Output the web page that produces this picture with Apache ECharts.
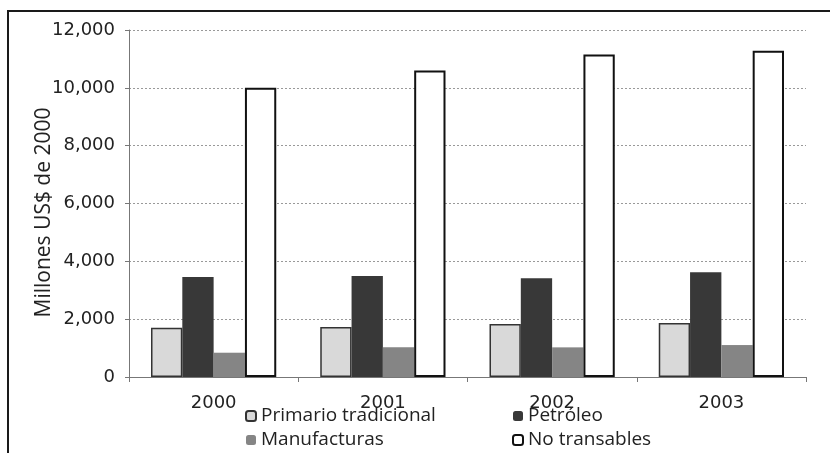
<!DOCTYPE html>
<html>
<head>
<meta charset="utf-8">
<script src="https://cdn.jsdelivr.net/npm/echarts@6/dist/echarts.min.js"></script>
<style>
  html, body { margin: 0; padding: 0; background: #fff; }
  #chart { width: 830px; height: 453px; }
</style>
</head>
<body>
<div id="chart"></div>
<script>
const years = ['2000', '2001', '2002', '2003'];
const primario = [1700, 1730, 1830, 1870];
const petroleo = [3460, 3495, 3415, 3620];
const manufacturas = [840, 1025, 1025, 1105];
const noTransables = [10000, 10600, 11150, 11280];
const yTicks = [0, 2000, 4000, 6000, 8000, 10000, 12000];

const numFont = 'DejaVu Sans';
const textFont = 'Open Sans';
const chart = echarts.init(document.getElementById('chart'));

function bar(name, data, color, border, bw) {
  return {
    name,
    type: 'bar',
    data,
    barGap: '0%',
    barCategoryGap: '26%',
    itemStyle: { color, borderColor: border, borderWidth: bw },
    emphasis: { disabled: true },
  };
}

const legendText = { fontFamily: textFont, fontSize: 19, color: '#222', lineHeight: 24 };

chart.setOption({
  animation: false,
  backgroundColor: '#fff',
  graphic: [
    {
      type: 'rect',
      shape: { x: 8, y: 11, width: 900, height: 500 },
      style: { fill: 'none', stroke: '#1a1a1a', lineWidth: 2 },
      silent: true,
    },
  ],
  grid: { left: 129, right: 24, top: 30, bottom: 76 },
  legend: [
    {
      data: ['Primario tradicional', 'Manufacturas'],
      orient: 'vertical',
      left: 245,
      top: 404,
      padding: 0,
      itemWidth: 10,
      itemHeight: 10,
      itemGap: 0,
      textStyle: legendText,
    },
    {
      data: ['Petróleo', 'No transables'],
      orient: 'vertical',
      left: 512,
      top: 404,
      padding: 0,
      itemWidth: 10,
      itemHeight: 10,
      itemGap: 0,
      textStyle: legendText,
    },
  ],
  xAxis: {
    type: 'category',
    data: years,
    axisLine: { lineStyle: { color: '#777', width: 1 } },
    axisTick: { show: true, length: 5, lineStyle: { color: '#777' } },
    axisLabel: { fontFamily: numFont, fontSize: 18, color: '#222', margin: 17 },
  },
  yAxis: {
    type: 'value',
    min: 0,
    max: 12000,
    interval: 2000,
    name: 'Millones US$ de 2000',
    nameLocation: 'middle',
    nameGap: 74,
    nameMoveOverlap: false,
    nameTextStyle: { fontFamily: textFont, fontSize: 21, color: '#222', padding: [0, 18, 0, 0] },
    axisLine: { show: true, lineStyle: { color: '#777' } },
    axisTick: { show: true, length: 4, lineStyle: { color: '#777' } },
    axisLabel: {
      fontFamily: numFont,
      fontSize: 18,
      color: '#222',
      margin: 14,
      formatter: (v) => (yTicks.includes(v) ? v.toLocaleString('en-US') : ''),
    },
    splitLine: { show: true, lineStyle: { color: '#999', type: [2, 2], width: 1 } },
  },
  series: [
    bar('Primario tradicional', primario, '#d9d9d9', '#333', 1.5),
    bar('Petróleo', petroleo, '#383838', '#383838', 0),
    bar('Manufacturas', manufacturas, '#858585', '#858585', 0),
    bar('No transables', noTransables, '#ffffff', '#111', 2),
  ],
});
</script>
</body>
</html>
